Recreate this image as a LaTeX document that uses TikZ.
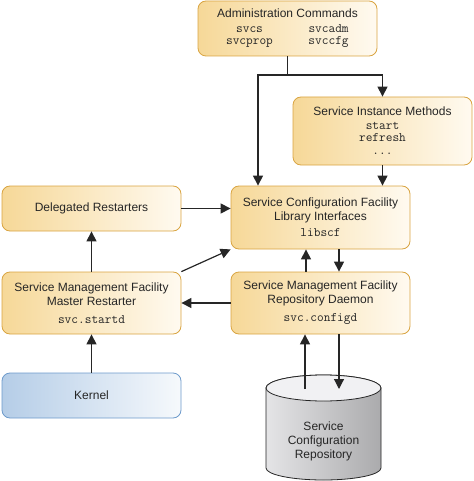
\documentclass[tikz,border=0pt]{standalone}
\usepackage{fontspec}
\setmainfont{Liberation Sans}
\usetikzlibrary{arrows.meta}
\definecolor{orline}{HTML}{D9A441}
\definecolor{orleft}{HTML}{F6D898}
\definecolor{ormid}{HTML}{F0C66C}
\definecolor{orright}{HTML}{FFFAF0}
\definecolor{blline}{HTML}{6D9ACB}
\definecolor{blleft}{HTML}{B5CDE7}
\definecolor{blmid}{HTML}{AEC9E4}
\definecolor{blright}{HTML}{F6F9FC}
\definecolor{cylleft}{HTML}{E4E4E6}
\definecolor{cylright}{HTML}{ABABAD}
\definecolor{cyltop}{HTML}{F1F1F3}
\definecolor{linecol}{HTML}{262626}
\newcommand\cmd[1]{{\ttfamily\fontsize{13}{14}\selectfont #1}}

\begin{document}
\begin{tikzpicture}[x=1pt,y=1pt,
  box/.style = {draw=orline, line width=0.8pt, rounded corners=8pt, left color=orleft, middle color=ormid, right color=orright,
    minimum width=179, minimum height=#1, inner sep=0pt, align=center, text=black!85, font=\fontsize{12}{14}\selectfont},
  kernbox/.style = {box=#1, draw=blline, left color=blleft, middle color=blmid, right color=blright},
  dbtext/.style = {align=center, text=black!85, font=\fontsize{12}{14}\selectfont},
  arr/.style = {draw=linecol, line width=1.2pt, -{Triangle[length=10pt,width=10pt]}},
  link/.style = {draw=linecol, line width=1.2pt}]
\useasboundingbox (0,0) rectangle (473,-481);

\node[box=55] (admin) at (287.5,-28.5) {Administration Commands\\[1pt]
  \cmd{\makebox[50pt]{svcs}\hspace{34pt}\makebox[42pt][l]{svcadm}}\\[-2pt]
  \cmd{\makebox[50pt]{svcprop}\hspace{34pt}\makebox[42pt][l]{svccfg}}};
\node[box=68] (sim) at (382.5,-131) {Service Instance Methods\\[0pt]\cmd{start}\\[-2pt]\cmd{refresh}\\[-1pt]\cmd{...}};
\node[box=63] (scf) at (320.5,-217.5) {Service Configuration Facility\\Library Interfaces\\[1.7pt]\cmd{libscf}};
\node[box=62] (repo) at (320.5,-303) {Service Management Facility\\Repository Daemon\\[4pt]\cmd{svc.configd}};
\node[box=45] (deleg) at (91.5,-208.5) {Delegated Restarters};
\node[box=62] (master) at (91.5,-303) {Service Management Facility\\Master Restarter\\[4pt]\cmd{svc.startd}};
\node[kernbox=45] (kernel) at (91.5,-395.5) {Kernel};

\shade[draw=linecol, line width=0.8pt, left color=cylleft, right color=cylright] (266,-388) -- (266,-468)
  arc[start angle=180, end angle=360, x radius=57.5, y radius=12] -- (381,-388)
  arc[start angle=0, end angle=180, x radius=57.5, y radius=13] -- cycle;
\filldraw[fill=cyltop, draw=linecol, line width=0.8pt] (323.5,-388) ellipse[x radius=57.5, y radius=13];
\node[dbtext] (repodb) at (323.5,-441) {Service\\Configuration\\Repository};
\coordinate (dbtop) at (323.5,-389);
\coordinate (fork) at (287.5,-75);

\draw[link] (admin.south) -- (fork);
\draw[arr] (fork) -| (sim);
\draw[arr] (fork) -| ([xshift=-62.5]scf.north);
\draw[arr] (sim) -- (sim |- scf.north);
\draw[arr] (deleg) -- (deleg -| scf.west);
\draw[arr] (master) -- (deleg);
\draw[arr] (master.north east) -- (scf.south west);
\draw[arr] (repo) -- (master);
\draw[arr] (kernel) -- (master);
\draw[arr] ([xshift=-14.5]repo.north) -- ([xshift=-14.5]scf.south);
\draw[arr] ([xshift=18.5]scf.south) -- ([xshift=18.5]repo.north);
\draw[arr] ([xshift=-18.5]dbtop) -- ([xshift=-15.5]repo.south);
\draw[arr] ([xshift=18.5]repo.south) -- ([xshift=15.5]dbtop);
\end{tikzpicture}
\end{document}
